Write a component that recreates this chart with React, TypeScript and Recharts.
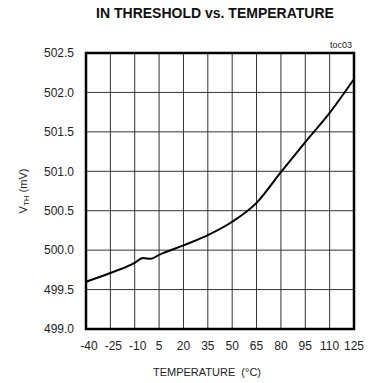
import React from "react";
import {
  LineChart,
  Line,
  XAxis,
  YAxis,
  CartesianGrid,
  ReferenceArea,
} from "recharts";

const temps = [-40, -25, -10, -5, 0, 5, 20, 35, 50, 65, 80, 95, 110, 125];
const vth = [
  499.6, 499.71, 499.84, 499.9, 499.89, 499.94, 500.06, 500.19, 500.36, 500.6,
  500.99, 501.37, 501.74, 502.17,
];
const xTicks = [-40, -25, -10, 5, 20, 35, 50, 65, 80, 95, 110, 125];
const yTicks = [499.0, 499.5, 500.0, 500.5, 501.0, 501.5, 502.0, 502.5];

const data = temps.map((t, i) => ({ t, v: vth[i] }));

const font = "'Liberation Sans', Arial, sans-serif";

const XTick = (props: any) => {
  const { x, y, payload } = props;
  const neg = payload.value < 0;
  return (
    <text
      x={x + (neg ? 3 : 0)}
      y={y}
      dy="0.71em"
      textAnchor="middle"
      fontSize={12}
      fill="#222"
      fontFamily={font}
    >
      {payload.value}
    </text>
  );
};

const App = () => {
  return (
    <div style={{ position: "absolute", left: 0, top: 0, width: 369, height: 383, background: "#fff" }}>
      <div
        style={{
          position: "absolute",
          top: 5,
          left: 0,
          width: 430,
          textAlign: "center",
          fontFamily: font,
          fontWeight: "bold",
          fontSize: 14,
          color: "#111",
        }}
      >
        IN THRESHOLD vs. TEMPERATURE
      </div>
      <div
        style={{
          position: "absolute",
          top: 40,
          left: 300,
          width: 52,
          textAlign: "right",
          fontFamily: font,
          fontSize: 9,
          color: "#222",
        }}
      >
        toc03
      </div>
      <div
        style={{
          position: "absolute",
          top: 366,
          left: 107,
          width: 200,
          textAlign: "center",
          fontFamily: font,
          fontSize: 11,
          color: "#222",
          whiteSpace: "pre",
        }}
      >
        {"TEMPERATURE  (°C)"}
      </div>
      <LineChart
        width={369}
        height={383}
        data={data}
        margin={{ top: 53, right: 15, bottom: 24, left: 26 }}
      >
        <CartesianGrid stroke="#333" strokeWidth={1} />
        <XAxis
          dataKey="t"
          type="number"
          domain={[-40, 125]}
          ticks={xTicks}
          interval={0}
          axisLine={false}
          tickLine={false}
          tickSize={0}
          tickMargin={12}
          height={30}
          tick={<XTick />}
        />
        <YAxis
          type="number"
          domain={[499, 502.5]}
          ticks={yTicks}
          interval={0}
          axisLine={false}
          tickLine={false}
          tickSize={0}
          tickMargin={12}
          width={60}
          tickFormatter={(v: number) => v.toFixed(1)}
          tick={{ fontSize: 12, fill: "#222", fontFamily: font }}
          label={(p: any) => {
            const vb = p.viewBox;
            const cx = 23;
            const cy = vb.y + vb.height / 2;
            return (
              <text
                x={cx}
                y={cy}
                transform={`rotate(-90 ${cx} ${cy})`}
                textAnchor="middle"
                dominantBaseline="central"
                fontSize={11}
                fill="#222"
                fontFamily={font}
              >
                V<tspan fontSize={8} dy={3}>TH</tspan>
                <tspan dy={-3}> (mV)</tspan>
              </text>
            );
          }}
        />
        <ReferenceArea
          x1={-40}
          x2={125}
          y1={499}
          y2={502.5}
          fill="none"
          stroke="#000"
          strokeWidth={2.5}
          ifOverflow="visible"
        />
        <Line
          type="monotone"
          dataKey="v"
          stroke="#000"
          strokeWidth={2}
          dot={false}
          isAnimationActive={false}
        />
      </LineChart>
    </div>
  );
};

export default App;
